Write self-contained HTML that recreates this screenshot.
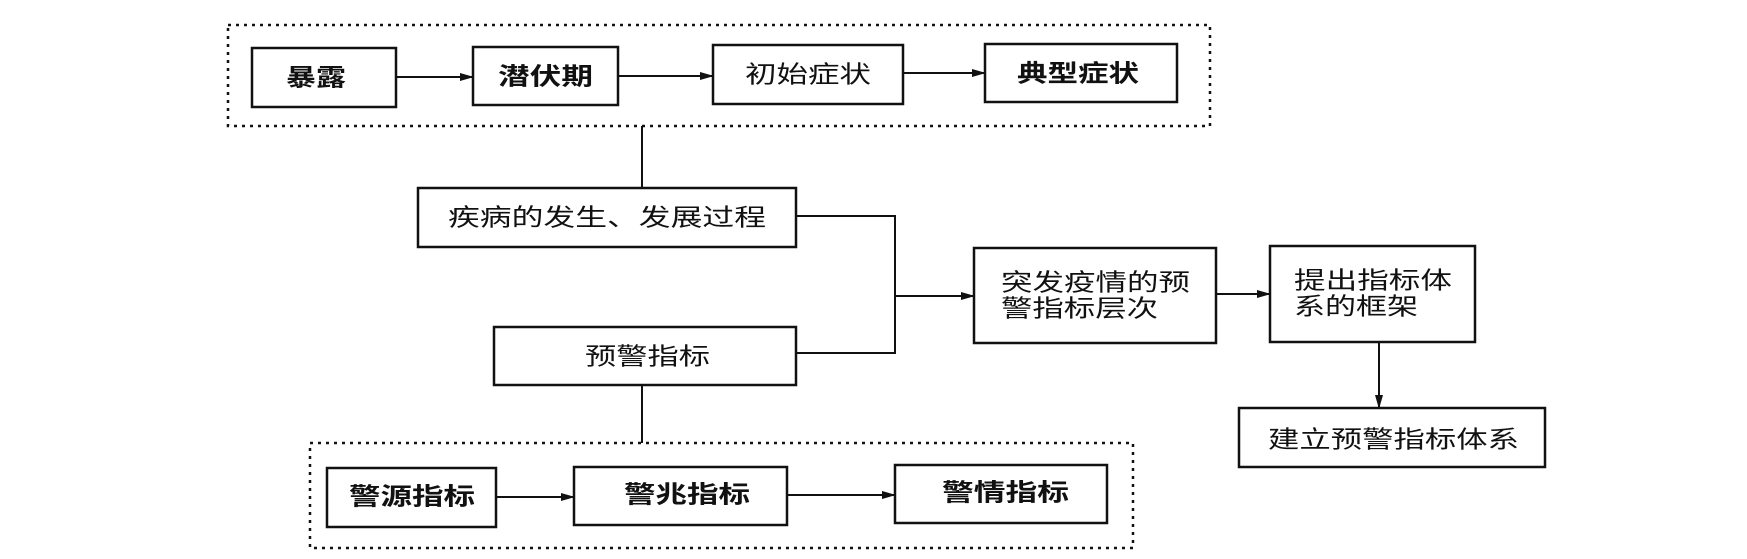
<!DOCTYPE html>
<html><head><meta charset="utf-8"><style>
html,body{margin:0;padding:0;background:#fff;}
svg{display:block;}
text{font-family:"Liberation Sans","Noto Sans CJK SC",sans-serif;font-size:24px;fill:#111;dominant-baseline:central;}
.b{font-weight:bold;}
</style></head><body>
<svg width="1747" height="559" viewBox="0 0 1747 559" xmlns="http://www.w3.org/2000/svg">
<defs><marker id="a" markerWidth="14" markerHeight="8" refX="13" refY="4" orient="auto" markerUnits="userSpaceOnUse"><path d="M0,0 L14,4 L0,8 Z" fill="#111"/></marker></defs>
<g fill="none" stroke="#111">
<rect x="228" y="25" width="982" height="101" stroke-width="2.5" stroke-dasharray="3,5"/>
<rect x="310" y="443" width="823" height="105" stroke-width="2.5" stroke-dasharray="3,5"/>
<g stroke-width="2.5">
<rect x="252" y="48" width="144" height="59"/>
<rect x="473" y="47" width="145" height="58"/>
<rect x="713" y="45" width="190" height="59"/>
<rect x="985" y="44" width="192" height="58"/>
<rect x="418" y="188" width="378" height="59"/>
<rect x="494" y="327" width="302" height="58"/>
<rect x="974" y="248" width="242" height="95"/>
<rect x="1270" y="246" width="205" height="96"/>
<rect x="1239" y="408" width="306" height="59"/>
<rect x="327" y="468" width="169" height="59"/>
<rect x="574" y="467" width="213" height="58"/>
<rect x="895" y="465" width="212" height="58"/>
</g>
<g stroke-width="2">
<line x1="396" y1="77" x2="473" y2="77" marker-end="url(#a)"/>
<line x1="618" y1="76" x2="713" y2="76" marker-end="url(#a)"/>
<line x1="903" y1="73" x2="985" y2="73" marker-end="url(#a)"/>
<line x1="642" y1="126" x2="642" y2="188"/>
<polyline points="796,216 895,216 895,353 796,353"/>
<line x1="895" y1="296" x2="974" y2="296" marker-end="url(#a)"/>
<line x1="1216" y1="294" x2="1270" y2="294" marker-end="url(#a)"/>
<line x1="1379" y1="342" x2="1379" y2="408" marker-end="url(#a)"/>
<line x1="642" y1="385" x2="642" y2="443"/>
<line x1="496" y1="497" x2="574" y2="497" marker-end="url(#a)"/>
<line x1="787" y1="495" x2="895" y2="495" marker-end="url(#a)"/>
</g>
</g>
<text class="b" x="286" y="78" textLength="60" lengthAdjust="spacingAndGlyphs">暴露</text>
<text class="b" x="498" y="77" textLength="95" lengthAdjust="spacingAndGlyphs">潜伏期</text>
<text x="745" y="75" textLength="126" lengthAdjust="spacingAndGlyphs">初始症状</text>
<text class="b" x="1017" y="74" textLength="122" lengthAdjust="spacingAndGlyphs">典型症状</text>
<text x="448" y="218" textLength="318" lengthAdjust="spacingAndGlyphs">疾病的发生、发展过程</text>
<text x="585" y="357" textLength="125" lengthAdjust="spacingAndGlyphs">预警指标</text>
<text x="1001" y="283" textLength="189" lengthAdjust="spacingAndGlyphs">突发疫情的预</text>
<text x="1001" y="309" textLength="157" lengthAdjust="spacingAndGlyphs">警指标层次</text>
<text x="1294" y="281" textLength="158" lengthAdjust="spacingAndGlyphs">提出指标体</text>
<text x="1294" y="307" textLength="124" lengthAdjust="spacingAndGlyphs">系的框架</text>
<text x="1268" y="440" textLength="251" lengthAdjust="spacingAndGlyphs">建立预警指标体系</text>
<text class="b" x="349" y="497" textLength="126" lengthAdjust="spacingAndGlyphs">警源指标</text>
<text class="b" x="624" y="495" textLength="126" lengthAdjust="spacingAndGlyphs">警兆指标</text>
<text class="b" x="942" y="493" textLength="127" lengthAdjust="spacingAndGlyphs">警情指标</text>
</svg>
</body></html>
